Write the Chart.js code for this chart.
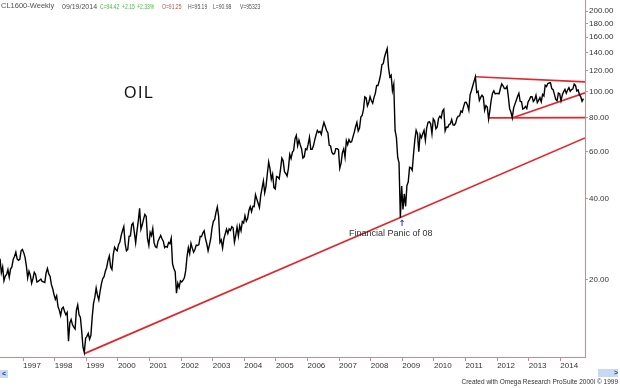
<!DOCTYPE html>
<html>
<head>
<meta charset="utf-8">
<script src="https://cdn.jsdelivr.net/npm/chart.js@4.4.1/dist/chart.umd.min.js"></script>
<style>
  html, body { margin: 0; padding: 0; background: #fff; }
  #wrap { position: relative; width: 620px; height: 388px; overflow: hidden; font-family: "Liberation Sans", Arial, sans-serif; }
  #wrap canvas { position: absolute; left: 0; top: 0; }
  .t { position: absolute; white-space: nowrap; line-height: 1; }
  .hd { top: 2px; font-size: 7.5px; color: #505050; }
  .nm { font-size: 7px; top: 2.5px; transform: scaleX(0.72); transform-origin: 0 0; }
  .up { color: #3cc03c; }
  .dn { color: #d04848; }
  .btn { position: absolute; background: #c9d9f2; color: #2040a0; font-size: 7px; line-height: 8px; font-weight: bold; }
</style>
</head>
<body>
<div id="wrap">
  <canvas id="chart" width="620" height="388"></canvas>
  <div class="t hd" style="left:1px">CL1600-Weekly</div>
  <div class="t hd" style="left:62px; font-size:7px; top:2.5px">09/19/2014</div>
  <div class="t hd nm up" style="left:100px">C=94.42</div>
  <div class="t hd nm up" style="left:122px">+2.15</div>
  <div class="t hd nm up" style="left:137px">+2.33%</div>
  <div class="t hd nm dn" style="left:162px">O=91.25</div>
  <div class="t hd nm" style="left:188px">H=95.19</div>
  <div class="t hd nm" style="left:213px">L=90.98</div>
  <div class="t hd nm" style="left:240px">V=95323</div>
  <div class="t" style="left:124px; top:85px; font-size:16px; letter-spacing:1.5px; color:#111">OIL</div>
  <div class="t" style="left:349px; top:229px; font-size:9px; color:#333">Financial Panic of 08</div>
  <div class="t" style="left:398.5px; top:219px; font-family:'DejaVu Sans'; font-size:8.5px; font-weight:bold; color:#1a3cc0">↑</div>
  <div class="btn" style="left:0px; top:370px; width:8px; height:8px; text-align:center">&lt;</div>
  <div class="btn" style="left:598px; top:369px; width:20px; height:8px; text-align:right">&gt;</div>
  <div class="t" style="right:2px; top:379px; font-size:6.5px; color:#333">Created with Omega Research ProSuite 2000i © 1999</div>
</div>
<script>
// weekly-ish closes, two per month (mid / end)
const p1996 = [23.9, 21.2, 22.3, 19.8, 20.6, 20.9, 21.8, 20.4, 21.9, 22.3, 23.8, 24.4, 25.3, 23.9, 23.6, 23.8, 25.6, 25.9]
const p1997 = [25.2, 24.2, 22.5, 20.3, 21.5, 20.8, 19.4, 20.2, 21.3, 20.9, 19.6, 19.7, 19.9, 20.1, 19.7, 19.6, 19.5, 21.2, 22.0, 21.0, 20.6, 19.2, 18.5, 17.6]
const p1998 = [16.9, 17.4, 15.9, 15.4, 14.7, 15.6, 15.8, 15.2, 14.8, 15.1, 11.8, 13.8, 14.2, 13.6, 13.3, 13.1, 15.4, 16.1, 14.8, 14.5, 12.9, 11.2, 10.7, 12.1]
const p1999 = [12.3, 12.6, 12.0, 12.4, 14.5, 16.3, 17.2, 18.6, 17.5, 16.8, 18.1, 19.3, 20.2, 20.5, 21.5, 22.2, 23.6, 24.5, 22.3, 21.8, 24.8, 26.4, 25.9, 25.6]
const p2000 = [27.0, 27.6, 29.2, 30.4, 31.5, 27.2, 25.6, 25.9, 29.0, 29.1, 32.0, 32.5, 30.0, 27.4, 30.3, 33.1, 36.9, 30.8, 32.0, 33.6, 35.0, 34.4, 28.4, 26.8]
const p2001 = [30.0, 29.2, 31.0, 27.4, 26.5, 26.3, 27.8, 28.5, 29.2, 28.4, 27.8, 26.3, 26.6, 26.4, 27.5, 27.2, 28.5, 22.9, 22.0, 21.4, 17.8, 19.4, 18.7, 19.8]
const p2002 = [19.6, 19.9, 20.3, 21.6, 24.3, 26.3, 25.0, 27.3, 26.2, 25.3, 25.9, 26.9, 26.8, 27.0, 29.0, 28.9, 29.8, 30.4, 28.4, 27.2, 25.6, 26.9, 28.4, 31.2]
const p2003 = [33.0, 33.5, 35.6, 37.3, 34.4, 27.5, 28.1, 26.2, 28.4, 29.6, 30.8, 29.7, 30.9, 30.5, 31.5, 31.2, 27.6, 29.2, 31.4, 29.1, 31.7, 30.4, 32.9, 32.5]
const p2004 = [34.6, 33.0, 33.8, 36.2, 37.4, 35.8, 37.5, 37.4, 41.4, 39.9, 38.5, 37.1, 41.3, 43.8, 46.6, 42.1, 44.5, 49.6, 54.8, 51.8, 47.3, 49.4, 44.0, 43.5]
const p2005 = [48.4, 48.2, 47.5, 51.5, 56.7, 55.4, 50.5, 49.7, 48.6, 51.9, 58.5, 56.5, 59.6, 60.6, 66.9, 68.9, 63.0, 66.2, 63.5, 61.3, 56.7, 57.3, 61.4, 61.0]
const p2006 = [63.9, 67.8, 61.1, 61.1, 63.0, 66.3, 69.3, 71.9, 70.6, 71.3, 69.5, 73.9, 77.0, 74.4, 71.8, 70.3, 63.3, 62.9, 59.6, 58.7, 58.9, 61.5, 61.5, 61.0]
const p2007 = [52.0, 54.3, 59.4, 61.4, 57.1, 65.9, 63.6, 66.5, 64.9, 65.2, 68.0, 70.7, 74.2, 77.0, 71.5, 73.4, 80.6, 81.7, 86.1, 95.9, 95.1, 88.7, 91.3, 96.0]
const p2008 = [92.7, 90.7, 95.5, 98.8, 105.7, 105.6, 110.1, 116.1, 126.3, 127.4, 134.9, 140.2, 145.1, 123.3, 113.8, 115.5, 101.2, 106.9, 71.9, 67.8, 57.0, 54.4, 34.0, 44.6]
const p2009 = [36.5, 41.7, 37.5, 44.8, 46.3, 52.4, 52.2, 51.1, 58.6, 66.3, 72.0, 69.9, 59.9, 69.4, 67.5, 69.9, 72.0, 66.0, 73.4, 77.0, 77.5, 76.1, 69.9, 79.4]
const p2010 = [78.0, 72.9, 74.1, 79.7, 81.2, 80.0, 84.9, 86.2, 71.6, 74.0, 73.8, 75.6, 76.1, 78.9, 75.4, 75.2, 76.5, 79.9, 81.3, 81.4, 84.9, 84.1, 88.0, 91.4]
const p2011 = [91.5, 89.3, 85.6, 97.9, 101.2, 105.4, 109.7, 113.9, 99.7, 100.6, 93.0, 95.4, 97.2, 95.7, 85.4, 88.9, 87.9, 79.2, 85.4, 93.3, 98.9, 101.0, 98.4, 98.8]
const p2012 = [98.7, 98.5, 103.2, 107.1, 105.4, 103.0, 103.0, 104.9, 96.1, 86.5, 84.0, 80.0, 87.1, 90.1, 93.0, 96.2, 98.9, 92.2, 92.0, 86.3, 86.9, 88.3, 86.7, 91.8]
const p2013 = [93.6, 95.9, 95.9, 92.1, 93.5, 97.2, 91.3, 93.0, 95.2, 91.9, 97.9, 96.6, 105.9, 104.7, 107.5, 108.0, 108.2, 102.9, 102.0, 97.9, 93.8, 92.7, 99.0, 98.4]
const p2014 = [92.7, 97.5, 100.3, 102.2, 98.9, 101.7, 103.7, 100.6, 102.0, 102.7, 106.9, 105.7, 100.8, 101.7, 97.7, 95.9, 92.3, 94.4]

// [year, first month index, values]
const yearSeries = [
    [1996, 3, p1996], [1997, 0, p1997], [1998, 0, p1998], [1999, 0, p1999], [2000, 0, p2000],
    [2001, 0, p2001], [2002, 0, p2002], [2003, 0, p2003], [2004, 0, p2004], [2005, 0, p2005],
    [2006, 0, p2006], [2007, 0, p2007], [2008, 0, p2008], [2009, 0, p2009], [2010, 0, p2010],
    [2011, 0, p2011], [2012, 0, p2012], [2013, 0, p2013], [2014, 0, p2014]
]

// trendlines drawn on the chart: [decimal year, price]
const supportLine = [[1998.94, 10.6], [2014.78, 67.4]]
const upperLine = [[2011.31, 113.9], [2014.78, 109.0]]
const floorLine = [[2011.74, 80.0], [2014.78, 80.3]]
const risingLine = [[2012.47, 80.0], [2014.78, 99.2]]

const yearTicks = [1997, 1998, 1999, 2000, 2001, 2002, 2003, 2004, 2005, 2006, 2007, 2008, 2009, 2010, 2011, 2012, 2013, 2014]
const priceTicks = [20, 40, 60, 80, 100, 120, 140, 160, 180, 200]

const X_MIN = 1996.27, X_MAX = 2014.78
const Y_MIN = 10.3, Y_MAX = 220
const AXIS = '#c98c8c'
const TREND = '#e3262b'

const priceData = []
yearSeries.forEach(([yr, m0, vals]) => {
    vals.forEach((v, i) => priceData.push({ x: yr + (m0 + 0.25 + i * 0.5) / 12, y: v }))
})

const toPts = arr => arr.map(([x, y]) => ({ x, y }))
const trend = arr => ({ data: toPts(arr), borderColor: TREND, borderWidth: 1.7, pointRadius: 0, fill: false })

const tickFont = { family: '"Liberation Sans", Arial, sans-serif', size: 8 }

// fixed axis sizes, no extra label padding so the plot fills the frame
const noPad = s => { s.paddingTop = 0; s.paddingBottom = 0; s.paddingLeft = 0; s.paddingRight = 0 }

new Chart(document.getElementById('chart'), {
    type: 'line',
    data: {
        datasets: [
            { data: priceData, borderColor: '#000', borderWidth: 1.4, pointRadius: 0, tension: 0, fill: false },
            trend(supportLine),
            trend(upperLine),
            trend(floorLine),
            trend(risingLine)
        ]
    },
    options: {
        responsive: false,
        animation: false,
        devicePixelRatio: 1,
        layout: { padding: 0 },
        plugins: { legend: { display: false }, tooltip: { enabled: false } },
        scales: {
            x: {
                type: 'linear',
                min: X_MIN,
                max: X_MAX,
                afterFit: s => { s.height = 31; noPad(s) },
                afterBuildTicks: s => { s.ticks = yearTicks.map(v => ({ value: v })) },
                ticks: { align: 'start', autoSkip: false, maxRotation: 0, padding: 0, color: '#333', font: tickFont, callback: v => String(v) },
                grid: { drawOnChartArea: false, tickLength: 4, color: AXIS },
                border: { color: AXIS }
            },
            y: {
                type: 'logarithmic',
                position: 'right',
                min: Y_MIN,
                max: Y_MAX,
                afterFit: s => { s.width = 35; noPad(s) },
                afterBuildTicks: s => { s.ticks = priceTicks.map(v => ({ value: v })) },
                ticks: { autoSkip: false, padding: 1, color: '#333', font: tickFont, callback: v => Number(v).toFixed(2) },
                grid: { drawOnChartArea: false, tickLength: 3, color: AXIS },
                border: { color: AXIS }
            }
        }
    }
})
</script>
</body>
</html>
